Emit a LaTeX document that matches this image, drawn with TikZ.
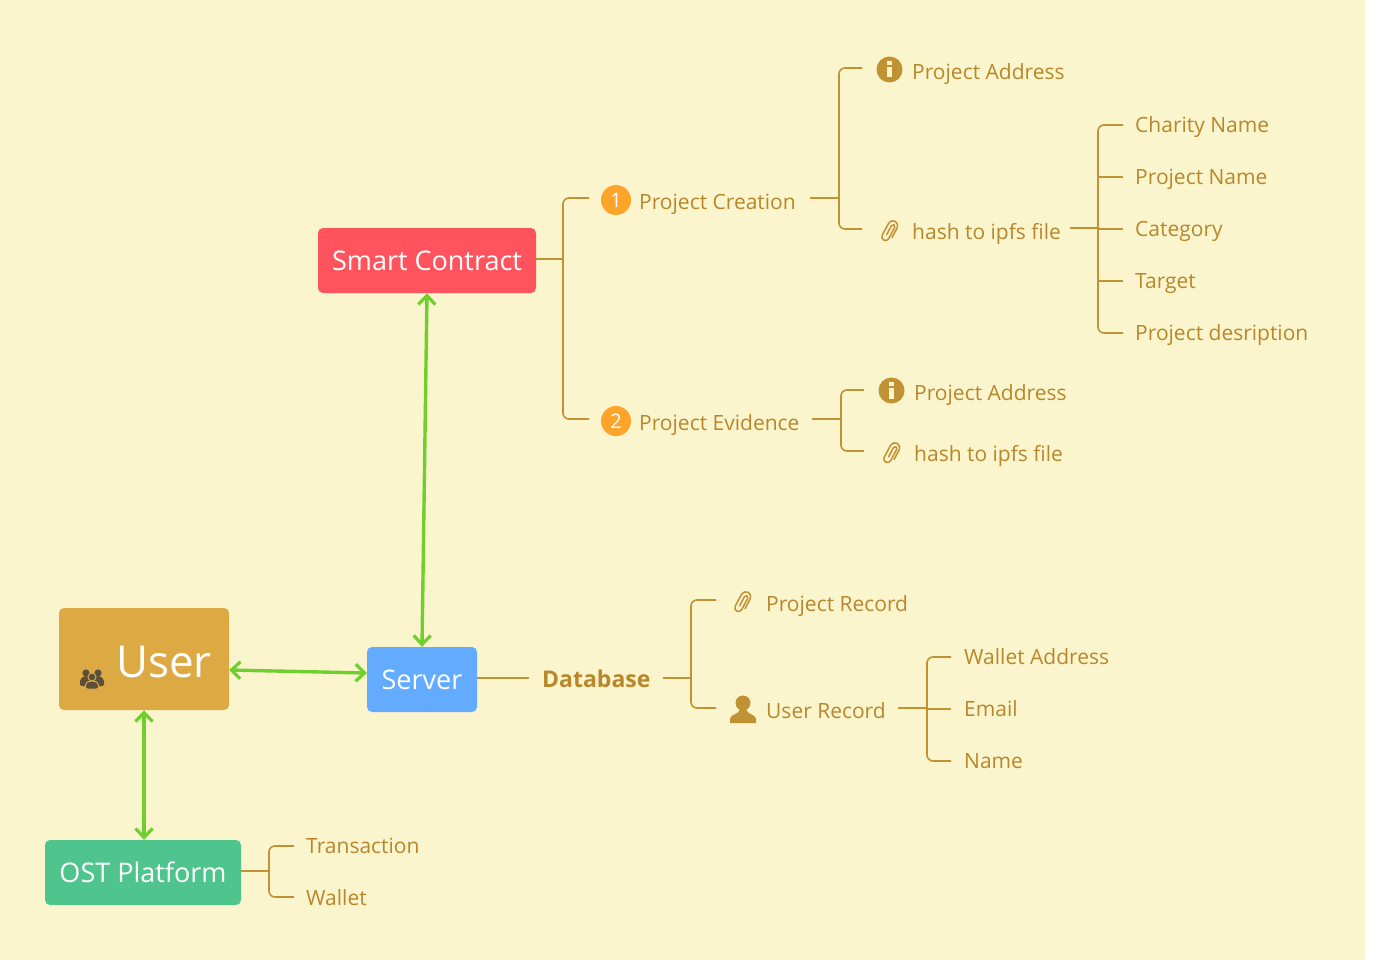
\documentclass[tikz,border=0pt]{standalone}
\usepackage{fontspec}
\setmainfont{Open Sans}
\usetikzlibrary{arrows.meta}
\definecolor{bgc}{HTML}{FBF5CD}
\definecolor{ink}{HTML}{B8862B}
\definecolor{icn}{HTML}{C19233}
\definecolor{grn}{HTML}{6FCF2C}
\definecolor{dark}{HTML}{5A4F3A}
\definecolor{redb}{HTML}{FF545E}
\definecolor{blueb}{HTML}{63ABFF}
\definecolor{userb}{HTML}{DDA942}
\definecolor{greenb}{HTML}{4FC48D}
\definecolor{orng}{HTML}{FFA42B}
\tikzset{
  x=1pt,y=-1pt,
  lbl/.style={anchor=base west,inner sep=0pt,text=ink,font=\fontsize{21}{24}\selectfont},
  boxn/.style={rounded corners=5pt,inner sep=0pt,text=white,font=\fontsize{27}{31}\selectfont,minimum height=65pt},
  branch/.style={draw=icn,line width=1.6pt,rounded corners=6pt},
  link/.style={draw=grn,line width=3.4pt,{Straight Barb[length=9pt,width=17pt,line width=3.2pt]}-{Straight Barb[length=9pt,width=17pt,line width=3.2pt]}},
  bullet/.style={circle,fill=orng,minimum size=30pt,inner sep=0pt,text=white,font=\fontsize{20}{22}\selectfont},
  pics/clip/.style={code={
    \draw[icn,line width=1.5pt,line cap=round,rotate=-28,scale=1.22,y=1pt]
      (4,-4) -- (4,5) arc[start angle=0,end angle=180,radius=4]
      -- (-4,-6) arc[start angle=180,end angle=360,radius=3]
      -- (2,4.5) arc[start angle=0,end angle=180,radius=1.5] -- (-1,-4);
  }},
  pics/infoicon/.style={code={
    \fill[icn] (0,0) circle[radius=13];
    \fill[bgc] (-2.5,-8.5) rectangle (2.5,-4.5);
    \fill[bgc] (-2.5,-2.5) rectangle (2.5,8);
  }},
  pics/personicon/.style={code={
    \fill[icn] (0,-6) circle[radius=7.5];
    \fill[icn] (-13,14) -- (-13,10) .. controls (-13,5) and (-4,6) .. (-3,0)
      -- (3,0) .. controls (4,6) and (13,5) .. (13,10) -- (13,14) -- cycle;
  }},
  pics/peopleicon/.style={code={
    \fill[dark] (-6,-6) circle[radius=3.6] (6,-6) circle[radius=3.6];
    \fill[dark,rounded corners=2pt] (-12,7) -- (-12,0) -- (-8,-3) -- (-3,-3) -- (0,0) -- (3,-3) -- (8,-3) -- (12,0) -- (12,7) -- cycle;
    \fill[dark,draw=userb,line width=1pt] (0,-2) circle[radius=4];
    \fill[dark,draw=userb,line width=1pt,rounded corners=2pt] (-6.5,10) -- (-6.5,4) -- (-3,2) -- (3,2) -- (6.5,4) -- (6.5,10) -- cycle;
  }},
}
\begin{document}
\begin{tikzpicture}
\useasboundingbox (0,0) rectangle (1374,966);
\fill[bgc] (0,0) rectangle (1365,960);

% main boxes
\node[boxn,fill=redb,minimum width=218pt] (sc) at (427,260.5) {Smart Contract};
\node[boxn,fill=blueb,minimum width=110pt] (srv) at (422,679.5) {Server};
\node[boxn,fill=userb,minimum width=170pt,minimum height=102pt] (usr) at (144,659) {};
\node[anchor=base west,inner sep=0pt,text=white,font=\fontsize{44}{48}\selectfont] (usrt) at (116,677) {User};
\pic at (92,679) {peopleicon};
\node[boxn,fill=greenb,minimum width=196pt] (ost) at (143,872.5) {OST Platform};

% level-one labels
\node[bullet] (b1) at (616,200) {1};
\node[bullet] (b2) at (616,421) {2};
\node[lbl] (pc) at (639,209) {Project Creation};
\node[lbl] (pe) at (639,430) {Project Evidence};
\node[lbl,font=\fontsize{23}{26}\selectfont\bfseries] (db) at (542,687) {Database};

% project creation children
\pic at (889.5,69.5) {infoicon};
\node[lbl] (pa1) at (912,80) {Project Address};
\pic at (890,231) {clip};
\node[lbl] (h1) at (912,239) {hash to ipfs file};
\node[lbl] (cn) at (1135,132) {Charity Name};
\node[lbl] (pn) at (1135,184) {Project Name};
\node[lbl] (cat) at (1135,236) {Category};
\node[lbl] (tg) at (1135,288) {Target};
\node[lbl] (pd) at (1135,340) {Project desription};

% project evidence children
\pic at (891.5,390.5) {infoicon};
\node[lbl] (pa2) at (914,400) {Project Address};
\pic at (892,453) {clip};
\node[lbl] (h2) at (914,461) {hash to ipfs file};

% database children
\pic at (743,602) {clip};
\node[lbl] (pr) at (766,611) {Project Record};
\pic at (743,709) {personicon};
\node[lbl] (ur) at (766,718) {User Record};
\node[lbl] (wa) at (964,664) {Wallet Address};
\node[lbl] (em) at (964,716) {Email};
\node[lbl] (nm) at (964,768) {Name};

% ost children
\node[lbl] (tx) at (306,853) {Transaction};
\node[lbl] (wl) at (306,905) {Wallet};

% anchors for the branches
\coordinate (j1) at (563,259);
\coordinate (e1a) at (589,198);
\coordinate (e1b) at (589,419);
\coordinate (s2) at (810,198);
\coordinate (j2) at (839,198);
\coordinate (e2a) at (862,68);
\coordinate (e2b) at (862,229);
\coordinate (s3) at (1070,228);
\coordinate (j3) at (1098,228);
\coordinate (e3a) at (1123,125);
\coordinate (e3b) at (1123,177);
\coordinate (e3c) at (1123,229);
\coordinate (e3d) at (1123,281);
\coordinate (e3e) at (1123,333);
\coordinate (s4) at (812,419);
\coordinate (j4) at (841,419);
\coordinate (e4a) at (864,390);
\coordinate (e4b) at (864,451);
\coordinate (e5) at (529,678);
\coordinate (s6) at (663,678);
\coordinate (j6) at (691,678);
\coordinate (e6a) at (716,600);
\coordinate (e6b) at (716,708);
\coordinate (s7) at (898,708);
\coordinate (j7) at (927,708);
\coordinate (e7a) at (951,657);
\coordinate (e7b) at (951,709);
\coordinate (e7c) at (951,761);
\coordinate (s8) at (241,871);
\coordinate (j8) at (269,871);
\coordinate (e8a) at (294,846);
\coordinate (e8b) at (294,897);
\coordinate (ua) at (229,670);
\coordinate (sa) at (367,673);

% branches
\draw[branch] (sc.east |- j1) -- (j1);
\draw[branch] (e1a) -| (j1) |- (e1b);
\draw[branch] (s2) -- (j2);
\draw[branch] (e2a) -| (j2) |- (e2b);
\draw[branch] (s3) -- (j3);
\draw[branch] (e3a) -| (j3) |- (e3e);
\draw[branch] (j3 |- e3b) -- (e3b);
\draw[branch] (j3 |- e3c) -- (e3c);
\draw[branch] (j3 |- e3d) -- (e3d);
\draw[branch] (s4) -- (j4);
\draw[branch] (e4a) -| (j4) |- (e4b);
\draw[branch] (srv.east |- e5) -- (e5);
\draw[branch] (s6) -- (j6);
\draw[branch] (e6a) -| (j6) |- (e6b);
\draw[branch] (s7) -- (j7);
\draw[branch] (e7a) -| (j7) |- (e7c);
\draw[branch] (j7 |- e7b) -- (e7b);
\draw[branch] (ost.east |- s8) -- (j8);
\draw[branch] (e8a) -| (j8) |- (e8b);

% links
\draw[link] (sc.south) -- (srv.north);
\draw[link] (ua) -- (sa);
\draw[link] (usr.south) -- (usr.south |- ost.north);
\end{tikzpicture}
\end{document}
